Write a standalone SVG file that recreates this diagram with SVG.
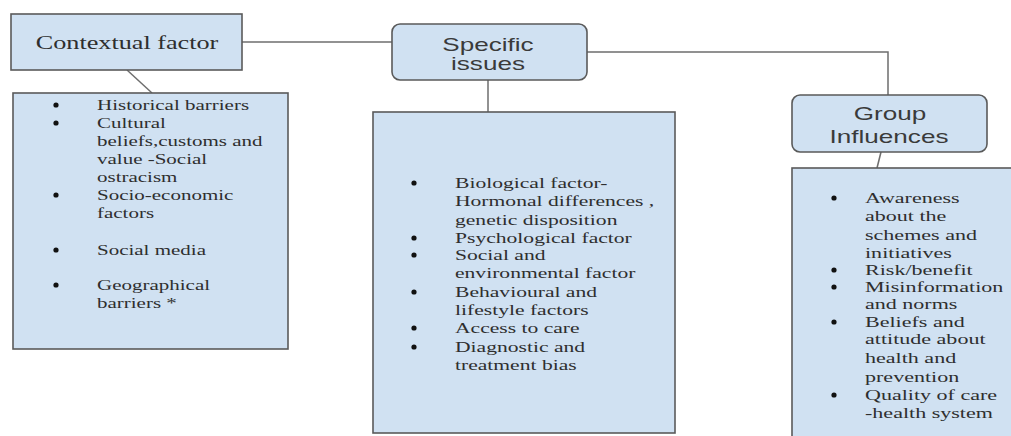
<svg xmlns="http://www.w3.org/2000/svg" width="1011" height="436" viewBox="0 0 1011 436">
<style>
.box{fill:#d0e1f2;stroke:#5a5a5a;stroke-width:1.6}
.conn{fill:none;stroke:#6e6e6e;stroke-width:1.5}
.serif{font-family:"Liberation Serif","Times New Roman",serif;fill:#2e2e2e}
.sans{font-family:"Liberation Sans",Arial,sans-serif;fill:#3a3a3a;font-size:18px}
.li{font-size:15px}
.bul{fill:#111}
</style>
<rect width="1011" height="436" fill="#ffffff"/>
<g id="connectors">
<line class="conn" x1="242" y1="42" x2="392" y2="42"/>
<line class="conn" x1="127" y1="70" x2="152" y2="93"/>
<line class="conn" x1="488" y1="80" x2="488" y2="112"/>
<polyline class="conn" points="587,52 888,52 888,95"/>
<line class="conn" x1="881" y1="152" x2="877" y2="168"/>
</g>
<g id="contextual-factor">
<rect class="box" x="11" y="14" width="231" height="56"/>
<text class="serif" font-size="19" text-anchor="middle" transform="translate(127,49) scale(1.38,1)">Contextual factor</text>
</g>
<g id="contextual-list">
<rect class="box" x="13" y="93" width="275" height="256"/>
<g class="bul">
<circle cx="56" cy="105" r="2.6"/><circle cx="56" cy="123" r="2.6"/><circle cx="56" cy="195" r="2.6"/><circle cx="56" cy="250" r="2.6"/><circle cx="56" cy="285" r="2.6"/>
</g>
<g class="serif li" transform="translate(97,0) scale(1.4,1)">
<text x="0" y="110">Historical barriers</text>
<text x="0" y="128">Cultural</text>
<text x="0" y="146">beliefs,customs and</text>
<text x="0" y="164">value -Social</text>
<text x="0" y="182">ostracism</text>
<text x="0" y="200">Socio-economic</text>
<text x="0" y="218">factors</text>
<text x="0" y="255">Social media</text>
<text x="0" y="290">Geographical</text>
<text x="0" y="308">barriers *</text>
</g>
</g>
<g id="specific-issues">
<rect class="box" x="392" y="24" width="195" height="56" rx="8"/>
<text class="sans" text-anchor="middle" transform="translate(488,51) scale(1.45,1)">Specific</text>
<text class="sans" text-anchor="middle" transform="translate(488,70) scale(1.45,1)">issues</text>
</g>
<g id="specific-list">
<rect class="box" x="373" y="112" width="302" height="321"/>
<g class="bul">
<circle cx="414" cy="183" r="2.6"/><circle cx="414" cy="238" r="2.6"/><circle cx="414" cy="255" r="2.6"/><circle cx="414" cy="292" r="2.6"/><circle cx="414" cy="328" r="2.6"/><circle cx="414" cy="347" r="2.6"/>
</g>
<g class="serif li" transform="translate(455,0) scale(1.44,1)">
<text x="0" y="188">Biological factor-</text>
<text x="0" y="206">Hormonal differences ,</text>
<text x="0" y="225">genetic disposition</text>
<text x="0" y="243">Psychological factor</text>
<text x="0" y="260">Social and</text>
<text x="0" y="278">environmental factor</text>
<text x="0" y="297">Behavioural and</text>
<text x="0" y="315">lifestyle factors</text>
<text x="0" y="333">Access to care</text>
<text x="0" y="352">Diagnostic and</text>
<text x="0" y="370">treatment bias</text>
</g>
</g>
<g id="group-influences">
<rect class="box" x="792" y="95" width="195" height="57" rx="8"/>
<text class="sans" text-anchor="middle" transform="translate(890,120) scale(1.45,1)">Group</text>
<text class="sans" text-anchor="middle" transform="translate(889,143) scale(1.45,1)">Influences</text>
</g>
<g id="group-list">
<rect class="box" x="792" y="168" width="240" height="290"/>
<g class="bul">
<circle cx="834" cy="198" r="2.6"/><circle cx="834" cy="270" r="2.6"/><circle cx="834" cy="287" r="2.6"/><circle cx="834" cy="322" r="2.6"/><circle cx="834" cy="395" r="2.6"/>
</g>
<g class="serif li" transform="translate(865,0) scale(1.47,1)">
<text x="0" y="203">Awareness</text>
<text x="0" y="221">about the</text>
<text x="0" y="240">schemes and</text>
<text x="0" y="258">initiatives</text>
<text x="0" y="275">Risk/benefit</text>
<text x="0" y="292">Misinformation</text>
<text x="0" y="309">and norms</text>
<text x="0" y="327">Beliefs and</text>
<text x="0" y="344">attitude about</text>
<text x="0" y="363">health and</text>
<text x="0" y="382">prevention</text>
<text x="0" y="400">Quality of care</text>
<text x="0" y="418">-health system</text>
</g>
</g>
</svg>
